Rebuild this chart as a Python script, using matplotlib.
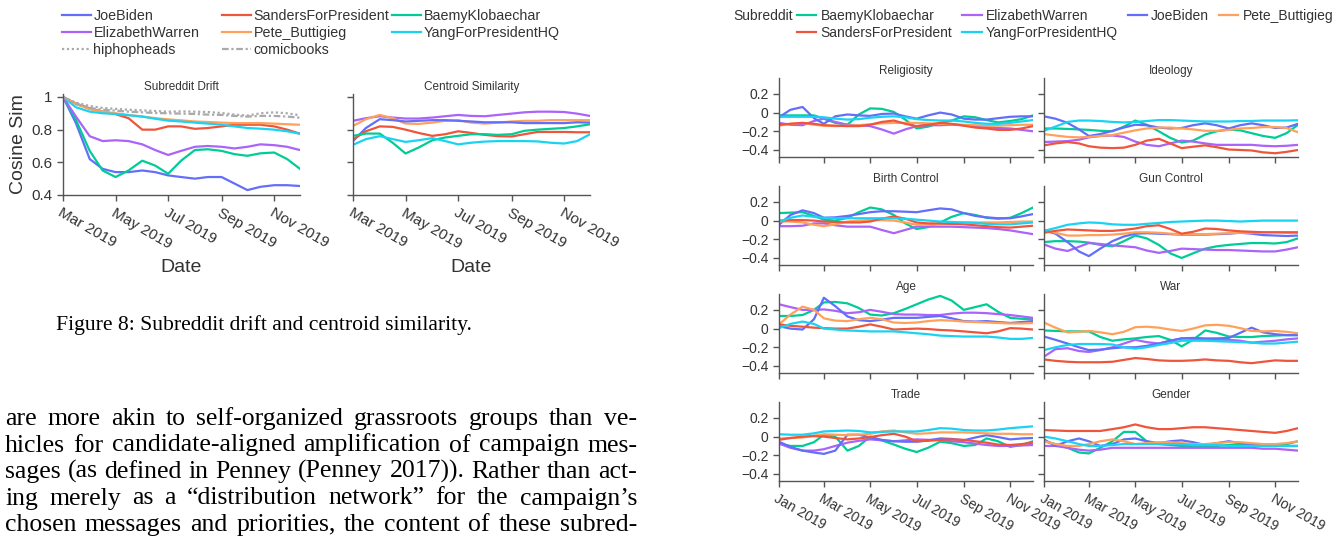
import numpy as np
import matplotlib
matplotlib.use("Agg")
import matplotlib.pyplot as plt
import matplotlib.dates as mdates
from matplotlib.lines import Line2D
from matplotlib.ticker import FuncFormatter

W, H = 1339, 540
plt.rcParams['font.family'] = ['Liberation Sans', 'DejaVu Sans']

COLORS = {
    'JoeBiden': '#636efa',
    'SandersForPresident': '#ef553b',
    'BaemyKlobaechar': '#00cc96',
    'ElizabethWarren': '#ab63fa',
    'Pete_Buttigieg': '#ffa15a',
    'YangForPresidentHQ': '#19d3f3',
}

# ---- Figure 8 data: semi-monthly samples, Mar 1 .. Dec 1 2019
drift_dates = [f'2019-{m:02d}-{d:02d}' for m in range(3, 12) for d in (1, 16)] + ['2019-12-01']

drift = {
    'JoeBiden': [1.0, 0.84, 0.62, 0.56, 0.54, 0.54, 0.55, 0.54, 0.52, 0.51, 0.50, 0.51, 0.51, 0.47, 0.43, 0.45, 0.46, 0.46, 0.455],
    'SandersForPresident': [1.0, 0.96, 0.93, 0.91, 0.895, 0.87, 0.80, 0.80, 0.82, 0.82, 0.805, 0.81, 0.82, 0.83, 0.83, 0.83, 0.82, 0.80, 0.775],
    'BaemyKlobaechar': [1.0, 0.86, 0.67, 0.55, 0.51, 0.55, 0.61, 0.58, 0.53, 0.61, 0.675, 0.68, 0.67, 0.65, 0.64, 0.655, 0.66, 0.62, 0.56],
    'ElizabethWarren': [1.0, 0.88, 0.76, 0.73, 0.735, 0.73, 0.71, 0.675, 0.645, 0.67, 0.695, 0.70, 0.695, 0.685, 0.695, 0.71, 0.705, 0.695, 0.675],
    'Pete_Buttigieg': [1.0, 0.957, 0.925, 0.91, 0.90, 0.89, 0.88, 0.87, 0.863, 0.857, 0.85, 0.847, 0.843, 0.84, 0.84, 0.84, 0.837, 0.833, 0.83],
    'YangForPresidentHQ': [1.0, 0.937, 0.91, 0.90, 0.896, 0.888, 0.88, 0.867, 0.855, 0.85, 0.843, 0.837, 0.83, 0.82, 0.81, 0.806, 0.80, 0.79, 0.775],
    'hiphopheads': [1.0, 0.965, 0.945, 0.933, 0.927, 0.922, 0.918, 0.914, 0.91, 0.912, 0.91, 0.908, 0.902, 0.892, 0.886, 0.90, 0.906, 0.90, 0.888],
    'comicbooks': [1.0, 0.957, 0.933, 0.922, 0.916, 0.91, 0.906, 0.902, 0.90, 0.898, 0.896, 0.892, 0.89, 0.884, 0.88, 0.884, 0.884, 0.88, 0.873],
}

centroid = {
    'ElizabethWarren': [0.854, 0.87, 0.882, 0.874, 0.868, 0.868, 0.874, 0.882, 0.89, 0.884, 0.882, 0.89, 0.898, 0.906, 0.91, 0.91, 0.908, 0.898, 0.884],
    'Pete_Buttigieg': [0.823, 0.864, 0.89, 0.87, 0.837, 0.835, 0.843, 0.854, 0.858, 0.843, 0.837, 0.843, 0.85, 0.854, 0.854, 0.858, 0.858, 0.858, 0.858],
    'JoeBiden': [0.73, 0.81, 0.864, 0.858, 0.85, 0.854, 0.858, 0.858, 0.854, 0.85, 0.845, 0.845, 0.845, 0.84, 0.84, 0.84, 0.84, 0.845, 0.843],
    'SandersForPresident': [0.74, 0.79, 0.82, 0.817, 0.80, 0.78, 0.762, 0.772, 0.79, 0.78, 0.768, 0.76, 0.758, 0.772, 0.786, 0.786, 0.786, 0.784, 0.784],
    'BaemyKlobaechar': [0.762, 0.776, 0.776, 0.72, 0.654, 0.69, 0.735, 0.752, 0.762, 0.772, 0.772, 0.768, 0.772, 0.793, 0.80, 0.805, 0.81, 0.82, 0.833],
    'YangForPresidentHQ': [0.707, 0.742, 0.76, 0.742, 0.725, 0.735, 0.748, 0.73, 0.71, 0.72, 0.727, 0.73, 0.73, 0.73, 0.728, 0.72, 0.715, 0.73, 0.772],
}

# ---- Topic similarity data: semi-monthly samples, Jan 1 .. Dec 1 2019
topic_dates = [f'2019-{m:02d}-{d:02d}' for m in range(1, 12) for d in (1, 16)] + ['2019-12-01']
topics = ['Religiosity', 'Ideology', 'Birth Control', 'Gun Control', 'Age', 'War', 'Trade', 'Gender']

topic_vals = {
    'Religiosity': {
        'BaemyKlobaechar': [-0.03, -0.03, -0.03, -0.03, -0.065, -0.11, -0.13, -0.02, 0.045, 0.04, 0.007, -0.075, -0.17, -0.15, -0.11, -0.085, -0.04, -0.05, -0.08, -0.105, -0.09, -0.07, -0.03],
        'ElizabethWarren': [-0.11, -0.13, -0.135, -0.09, -0.065, -0.1, -0.13, -0.135, -0.145, -0.18, -0.225, -0.18, -0.145, -0.135, -0.135, -0.13, -0.135, -0.145, -0.155, -0.165, -0.17, -0.185, -0.2],
        'JoeBiden': [-0.05, 0.03, 0.06, -0.06, -0.12, -0.04, -0.02, -0.03, -0.035, -0.015, -0.01, -0.04, -0.065, -0.03, 0.0, -0.02, -0.065, -0.075, -0.075, -0.06, -0.045, -0.04, -0.04],
        'Pete_Buttigieg': [-0.14, -0.12, -0.11, -0.13, -0.14, -0.145, -0.14, -0.135, -0.125, -0.115, -0.11, -0.11, -0.11, -0.115, -0.12, -0.125, -0.13, -0.135, -0.14, -0.14, -0.135, -0.13, -0.13],
        'SandersForPresident': [-0.13, -0.12, -0.11, -0.12, -0.135, -0.14, -0.145, -0.145, -0.13, -0.1, -0.085, -0.12, -0.145, -0.13, -0.11, -0.12, -0.14, -0.16, -0.17, -0.185, -0.185, -0.17, -0.145],
        'YangForPresidentHQ': [-0.045, -0.045, -0.045, -0.045, -0.05, -0.065, -0.075, -0.07, -0.055, -0.045, -0.04, -0.05, -0.07, -0.08, -0.085, -0.085, -0.095, -0.11, -0.12, -0.12, -0.11, -0.095, -0.08],
    },
    'Ideology': {
        'BaemyKlobaechar': [-0.17, -0.17, -0.175, -0.18, -0.185, -0.195, -0.2, -0.15, -0.085, -0.13, -0.2, -0.27, -0.32, -0.3, -0.235, -0.2, -0.18, -0.19, -0.22, -0.25, -0.27, -0.22, -0.13],
        'ElizabethWarren': [-0.315, -0.31, -0.305, -0.29, -0.265, -0.25, -0.245, -0.26, -0.31, -0.345, -0.36, -0.33, -0.3, -0.31, -0.33, -0.345, -0.345, -0.345, -0.345, -0.355, -0.36, -0.355, -0.345],
        'JoeBiden': [-0.04, -0.065, -0.11, -0.18, -0.25, -0.23, -0.195, -0.16, -0.13, -0.135, -0.16, -0.17, -0.165, -0.135, -0.115, -0.135, -0.17, -0.135, -0.115, -0.135, -0.165, -0.16, -0.12],
        'Pete_Buttigieg': [-0.23, -0.245, -0.26, -0.265, -0.26, -0.25, -0.24, -0.215, -0.19, -0.17, -0.16, -0.16, -0.17, -0.18, -0.195, -0.195, -0.185, -0.17, -0.165, -0.155, -0.155, -0.165, -0.21],
        'SandersForPresident': [-0.35, -0.33, -0.315, -0.33, -0.36, -0.375, -0.38, -0.375, -0.345, -0.3, -0.28, -0.33, -0.38, -0.365, -0.35, -0.37, -0.395, -0.4, -0.405, -0.425, -0.435, -0.42, -0.4],
        'YangForPresidentHQ': [-0.195, -0.15, -0.1, -0.085, -0.085, -0.09, -0.1, -0.105, -0.1, -0.09, -0.08, -0.08, -0.085, -0.09, -0.095, -0.095, -0.095, -0.09, -0.09, -0.085, -0.085, -0.085, -0.082],
    },
    'Birth Control': {
        'BaemyKlobaechar': [0.08, 0.085, 0.09, 0.05, 0.01, 0.0, 0.03, 0.09, 0.14, 0.12, 0.06, -0.03, -0.09, -0.07, -0.02, 0.04, 0.08, 0.06, 0.03, 0.02, 0.03, 0.08, 0.14],
        'ElizabethWarren': [-0.06, -0.06, -0.055, -0.03, -0.03, -0.05, -0.065, -0.065, -0.065, -0.1, -0.135, -0.1, -0.065, -0.065, -0.065, -0.065, -0.07, -0.075, -0.08, -0.09, -0.105, -0.125, -0.145],
        'JoeBiden': [-0.045, 0.06, 0.11, 0.08, 0.03, 0.035, 0.05, 0.07, 0.09, 0.1, 0.1, 0.095, 0.09, 0.11, 0.13, 0.12, 0.08, 0.05, 0.035, 0.025, 0.025, 0.045, 0.07],
        'Pete_Buttigieg': [-0.01, -0.01, -0.02, -0.045, -0.06, -0.04, -0.01, 0.0, 0.005, 0.005, 0.0, -0.02, -0.045, -0.045, -0.04, -0.03, -0.02, -0.02, -0.02, -0.02, -0.015, -0.01, -0.01],
        'SandersForPresident': [0.0, 0.005, 0.005, 0.0, -0.01, -0.015, -0.02, -0.02, -0.01, 0.02, 0.045, 0.02, -0.02, -0.03, -0.03, -0.035, -0.04, -0.05, -0.06, -0.07, -0.075, -0.065, -0.055],
        'YangForPresidentHQ': [-0.01, 0.03, 0.055, 0.04, 0.03, 0.025, 0.025, 0.025, 0.025, 0.025, 0.025, 0.02, 0.01, 0.0, -0.01, -0.015, -0.02, -0.025, -0.035, -0.04, -0.04, -0.03, -0.02],
    },
    'Gun Control': {
        'BaemyKlobaechar': [-0.23, -0.22, -0.22, -0.225, -0.235, -0.26, -0.275, -0.22, -0.16, -0.19, -0.26, -0.35, -0.4, -0.35, -0.3, -0.275, -0.26, -0.25, -0.24, -0.24, -0.245, -0.23, -0.19],
        'ElizabethWarren': [-0.255, -0.3, -0.325, -0.28, -0.24, -0.25, -0.265, -0.275, -0.285, -0.32, -0.345, -0.325, -0.3, -0.305, -0.31, -0.315, -0.315, -0.32, -0.325, -0.33, -0.33, -0.31, -0.285],
        'JoeBiden': [-0.105, -0.14, -0.23, -0.33, -0.38, -0.3, -0.22, -0.17, -0.14, -0.135, -0.14, -0.145, -0.15, -0.15, -0.15, -0.145, -0.14, -0.13, -0.14, -0.155, -0.16, -0.165, -0.16],
        'Pete_Buttigieg': [-0.1, -0.13, -0.16, -0.16, -0.155, -0.155, -0.15, -0.14, -0.125, -0.125, -0.13, -0.14, -0.145, -0.145, -0.145, -0.14, -0.135, -0.13, -0.13, -0.125, -0.125, -0.13, -0.13],
        'SandersForPresident': [-0.13, -0.11, -0.095, -0.1, -0.105, -0.11, -0.11, -0.1, -0.085, -0.06, -0.05, -0.09, -0.14, -0.12, -0.085, -0.09, -0.105, -0.115, -0.12, -0.125, -0.125, -0.125, -0.125],
        'YangForPresidentHQ': [-0.11, -0.08, -0.045, -0.03, -0.02, -0.025, -0.04, -0.045, -0.045, -0.035, -0.025, -0.015, -0.01, -0.005, 0.0, 0.0, -0.005, -0.01, -0.005, 0.0, 0.0, 0.0, 0.0],
    },
    'Age': {
        'BaemyKlobaechar': [0.135, 0.135, 0.145, 0.2, 0.28, 0.285, 0.27, 0.22, 0.15, 0.14, 0.165, 0.21, 0.26, 0.31, 0.35, 0.3, 0.2, 0.23, 0.26, 0.18, 0.115, 0.105, 0.1],
        'ElizabethWarren': [0.26, 0.23, 0.2, 0.2, 0.205, 0.19, 0.165, 0.175, 0.2, 0.18, 0.155, 0.15, 0.15, 0.145, 0.145, 0.16, 0.17, 0.17, 0.165, 0.155, 0.145, 0.13, 0.115],
        'JoeBiden': [0.025, 0.0, -0.01, 0.1, 0.33, 0.24, 0.13, 0.09, 0.08, 0.095, 0.115, 0.115, 0.115, 0.125, 0.135, 0.11, 0.08, 0.075, 0.08, 0.07, 0.06, 0.07, 0.08],
        'Pete_Buttigieg': [0.045, 0.15, 0.235, 0.2, 0.11, 0.085, 0.08, 0.1, 0.115, 0.1, 0.065, 0.06, 0.065, 0.08, 0.09, 0.085, 0.075, 0.07, 0.065, 0.06, 0.055, 0.055, 0.06],
        'SandersForPresident': [0.045, 0.03, 0.02, 0.01, 0.005, 0.0, 0.0, 0.02, 0.045, 0.02, -0.01, -0.005, 0.0, -0.005, -0.015, -0.02, -0.03, -0.04, -0.05, -0.03, 0.005, 0.0, -0.01],
        'YangForPresidentHQ': [0.005, 0.05, 0.075, 0.05, 0.0, -0.01, -0.02, -0.025, -0.03, -0.03, -0.03, -0.04, -0.05, -0.06, -0.075, -0.08, -0.085, -0.085, -0.085, -0.095, -0.11, -0.11, -0.1],
    },
    'War': {
        'BaemyKlobaechar': [-0.02, -0.025, -0.03, -0.03, -0.03, -0.09, -0.13, -0.115, -0.105, -0.09, -0.08, -0.12, -0.19, -0.12, -0.02, -0.045, -0.085, -0.09, -0.09, -0.08, -0.075, -0.07, -0.07],
        'ElizabethWarren': [-0.3, -0.22, -0.21, -0.24, -0.25, -0.23, -0.2, -0.16, -0.12, -0.145, -0.16, -0.13, -0.105, -0.11, -0.115, -0.12, -0.12, -0.13, -0.15, -0.14, -0.13, -0.115, -0.105],
        'JoeBiden': [-0.085, -0.12, -0.16, -0.2, -0.23, -0.225, -0.21, -0.2, -0.2, -0.185, -0.16, -0.13, -0.105, -0.1, -0.105, -0.105, -0.1, -0.045, 0.01, -0.04, -0.06, -0.07, -0.07],
        'Pete_Buttigieg': [0.065, 0.01, -0.04, -0.035, -0.025, -0.04, -0.06, -0.035, 0.015, 0.02, 0.01, -0.01, -0.025, 0.0, 0.035, 0.04, 0.03, 0.005, -0.025, -0.03, -0.025, -0.035, -0.05],
        'SandersForPresident': [-0.33, -0.345, -0.355, -0.36, -0.36, -0.36, -0.355, -0.335, -0.315, -0.325, -0.34, -0.345, -0.345, -0.34, -0.33, -0.34, -0.345, -0.36, -0.37, -0.355, -0.34, -0.345, -0.345],
        'YangForPresidentHQ': [-0.23, -0.2, -0.175, -0.165, -0.165, -0.165, -0.17, -0.2, -0.215, -0.2, -0.175, -0.155, -0.13, -0.13, -0.13, -0.135, -0.14, -0.145, -0.15, -0.16, -0.16, -0.15, -0.14],
    },
    'Trade': {
        'BaemyKlobaechar': [-0.075, -0.1, -0.1, -0.06, 0.02, 0.0, -0.15, -0.1, 0.0, -0.04, -0.085, -0.13, -0.165, -0.12, -0.055, -0.07, -0.1, -0.09, -0.02, -0.05, -0.11, -0.09, -0.05],
        'ElizabethWarren': [-0.075, -0.12, -0.15, -0.15, -0.135, -0.1, -0.065, -0.045, -0.03, -0.04, -0.05, -0.04, -0.03, -0.035, -0.04, -0.05, -0.06, -0.075, -0.09, -0.1, -0.1, -0.095, -0.09],
        'JoeBiden': [-0.055, -0.11, -0.15, -0.17, -0.185, -0.15, 0.02, 0.02, -0.01, -0.035, -0.05, -0.055, -0.055, -0.04, -0.02, -0.025, -0.04, -0.01, 0.015, -0.005, -0.03, -0.02, -0.015],
        'Pete_Buttigieg': [-0.02, -0.015, -0.01, 0.01, 0.025, 0.02, 0.015, 0.02, 0.03, 0.055, 0.065, 0.045, 0.03, 0.035, 0.045, 0.045, 0.045, 0.04, 0.035, 0.03, 0.03, 0.025, 0.025],
        'SandersForPresident': [-0.035, -0.015, 0.0, 0.005, 0.0, -0.015, -0.03, -0.02, -0.005, 0.015, 0.03, 0.0, -0.05, -0.045, -0.035, -0.03, -0.035, -0.05, -0.065, -0.085, -0.09, -0.08, -0.065],
        'YangForPresidentHQ': [0.025, 0.02, 0.02, 0.035, 0.055, 0.06, 0.065, 0.06, 0.045, 0.05, 0.055, 0.055, 0.055, 0.07, 0.09, 0.085, 0.07, 0.065, 0.065, 0.075, 0.09, 0.1, 0.11],
    },
    'Gender': {
        'BaemyKlobaechar': [-0.05, -0.08, -0.12, -0.17, -0.18, -0.12, -0.05, 0.05, 0.05, -0.05, -0.08, -0.09, -0.1, -0.1, -0.1, -0.1, -0.09, -0.08, -0.08, -0.09, -0.09, -0.08, -0.05],
        'ElizabethWarren': [-0.1, -0.1, -0.12, -0.14, -0.15, -0.14, -0.12, -0.12, -0.12, -0.12, -0.12, -0.12, -0.12, -0.12, -0.12, -0.12, -0.12, -0.12, -0.12, -0.13, -0.13, -0.14, -0.15],
        'JoeBiden': [-0.03, -0.1, -0.05, -0.02, -0.05, -0.1, -0.08, -0.03, -0.02, -0.05, -0.07, -0.05, -0.04, -0.06, -0.09, -0.07, -0.05, -0.07, -0.08, -0.1, -0.1, -0.1, -0.1],
        'Pete_Buttigieg': [-0.05, -0.08, -0.1, -0.1, -0.08, -0.05, -0.03, -0.05, -0.08, -0.07, -0.06, -0.06, -0.07, -0.08, -0.08, -0.07, -0.06, -0.06, -0.07, -0.08, -0.08, -0.07, -0.05],
        'SandersForPresident': [0.07, 0.065, 0.06, 0.06, 0.06, 0.06, 0.08, 0.1, 0.13, 0.1, 0.08, 0.08, 0.09, 0.1, 0.1, 0.09, 0.08, 0.07, 0.06, 0.05, 0.04, 0.06, 0.09],
        'YangForPresidentHQ': [0.0, -0.02, -0.05, -0.08, -0.1, -0.1, -0.09, -0.08, -0.08, -0.08, -0.08, -0.08, -0.08, -0.09, -0.09, -0.09, -0.1, -0.1, -0.1, -0.1, -0.1, -0.1, -0.1],
    },
}

caption = "Figure 8: Subreddit drift and centroid similarity."
body_lines = [
    "are more akin to self-organized grassroots groups than ve-",
    "hicles for candidate-aligned amplification of campaign mes-",
    "sages (as defined in Penney (Penney 2017)). Rather than act-",
    "ing merely as a \u201cdistribution network\u201d for the campaign\u2019s",
    "chosen messages and priorities, the content of these subred-",
]

SPINE = '#555555'
TXT = '#333333'
LW = 1.6
GRAY_STYLES = {'hiphopheads': (0, (1, 1.2)), 'comicbooks': (0, (3, 1.2, 1, 1.2))}


def fmt(v, _):
    return f'{v:g}'.replace('-', '\u2212')


def px_axes(fig, x0, y0, x1, y1):
    return fig.add_axes([x0 / W, 1 - y1 / H, (x1 - x0) / W, (y1 - y0) / H])


def style(ax, size):
    for s in ('top', 'right'):
        ax.spines[s].set_visible(False)
    for s in ('left', 'bottom'):
        ax.spines[s].set_color(SPINE)
        ax.spines[s].set_linewidth(1.0)
    ax.tick_params(colors=SPINE, labelcolor=TXT, labelsize=size, length=4, width=1.0)


def date_xaxis(ax, start, end, months, size, labels=True):
    ax.set_xlim(np.datetime64(start), np.datetime64(end))
    ax.xaxis.set_major_locator(mdates.MonthLocator(bymonth=months))
    ax.xaxis.set_major_formatter(mdates.DateFormatter('%b %Y'))
    if labels:
        for t in ax.get_xticklabels():
            t.set_rotation(-30)
            t.set_ha('left')
            t.set_va('top')
            t.set_rotation_mode('anchor')
            t.set_fontsize(size)
    else:
        ax.tick_params(labelbottom=False)


def justified(fig, text, x0, x1, y, **kw):
    words = text.split(' ')
    r = fig.canvas.get_renderer()
    widths = []
    for w in words:
        t = fig.text(0, 0, w, **kw)
        widths.append(t.get_window_extent(r).width)
        t.remove()
    gap = (x1 - x0 - sum(widths)) / (len(words) - 1)
    x = x0
    for w, wd in zip(words, widths):
        fig.text(x / W, 1 - y / H, w, ha='left', va='baseline', **kw)
        x += wd + gap


def line_handle(name):
    if name in GRAY_STYLES:
        return Line2D([], [], color='#aaaaaa', lw=LW, ls=GRAY_STYLES[name])
    return Line2D([], [], color=COLORS[name], lw=LW)


fig = plt.figure(figsize=(W / 100, H / 100), dpi=100)

# ---------------- Figure 8 (left) ----------------
dd = np.array(drift_dates, dtype='datetime64[D]')
ax1 = px_axes(fig, 63, 93.7, 300, 195)
ax2 = px_axes(fig, 353, 93.7, 590, 195)
for name, vals in drift.items():
    if name in GRAY_STYLES:
        ax1.plot(dd, vals, color='#aaaaaa', lw=LW, ls=GRAY_STYLES[name])
    else:
        ax1.plot(dd, vals, color=COLORS[name], lw=LW)
for name, vals in centroid.items():
    ax2.plot(dd, vals, color=COLORS[name], lw=LW)

for ax, title in ((ax1, 'Subreddit Drift'), (ax2, 'Centroid Similarity')):
    style(ax, 11)
    ax.set_ylim(0.4, 1.02)
    ax.set_yticks([0.4, 0.6, 0.8, 1.0])
    ax.yaxis.set_major_formatter(FuncFormatter(fmt))
    date_xaxis(ax, '2019-03-01', '2019-12-01', [3, 5, 7, 9, 11], 11)
    ax.set_title(title, fontsize=8.5, color=TXT, pad=3)
    ax.set_xlabel('Date', fontsize=14, color=TXT, labelpad=6)
ax2.tick_params(labelleft=False)
ax1.set_ylabel('Cosine Sim', fontsize=14, color=TXT, labelpad=3)

legend_cols = [
    (62, ['JoeBiden', 'ElizabethWarren', 'hiphopheads']),
    (222, ['SandersForPresident', 'Pete_Buttigieg', 'comicbooks']),
    (392, ['BaemyKlobaechar', 'YangForPresidentHQ']),
]
for x, names in legend_cols:
    lg = fig.legend([line_handle(n) for n in names], names, loc='upper left',
                    bbox_to_anchor=(x / W, 1 - 9 / H), frameon=False, fontsize=10.3,
                    handlelength=2.0, handletextpad=0.2, labelspacing=0.2,
                    borderpad=0, borderaxespad=0)
    for t in lg.get_texts():
        t.set_color(TXT)

fig.text(264 / W, 1 - 325 / H, caption, ha='center', va='center', fontsize=15.6,
         family='Liberation Serif', color='black')
for i, line in enumerate(body_lines):
    justified(fig, line, 5, 637, 425 + i * 26.5, fontsize=18.5, family='Liberation Serif', color='black')

# ---------------- Topic similarity (right) ----------------
td = np.array(topic_dates, dtype='datetime64[D]')
cols = [(779, 1033), (1044, 1298)]
tops = [78, 186, 294, 402]
for i, topic in enumerate(topics):
    r, c = divmod(i, 2)
    x0, x1 = cols[c]
    ax = px_axes(fig, x0, tops[r], x1, tops[r] + 79)
    for name, vals in topic_vals[topic].items():
        ax.plot(td, vals, color=COLORS[name], lw=LW)
    style(ax, 10)
    ax.set_ylim(-0.475, 0.37)
    ax.set_yticks([-0.4, -0.2, 0, 0.2])
    ax.yaxis.set_major_formatter(FuncFormatter(fmt))
    date_xaxis(ax, '2019-01-01', '2019-12-01', [1, 3, 5, 7, 9, 11], 10, labels=(r == 3))
    if c == 1:
        ax.tick_params(labelleft=False)
    ax.set_title(topic, fontsize=8.5, color=TXT, pad=3)

order2 = ['BaemyKlobaechar', 'SandersForPresident', 'ElizabethWarren', 'YangForPresidentHQ',
          'JoeBiden', 'Pete_Buttigieg']
fig.text(733 / W, 1 - 16 / H, 'Subreddit', ha='left', va='center', fontsize=10, color=TXT)
leg2 = fig.legend([line_handle(n) for n in order2], order2, loc='upper left',
                  bbox_to_anchor=(797 / W, 1 - 9 / H), ncol=4, frameon=False, fontsize=10,
                  handlelength=1.4, handletextpad=0.3, columnspacing=0.7, labelspacing=0.2,
                  borderpad=0, borderaxespad=0)
for t in leg2.get_texts():
    t.set_color(TXT)

fig.savefig('out.png', dpi=100)
